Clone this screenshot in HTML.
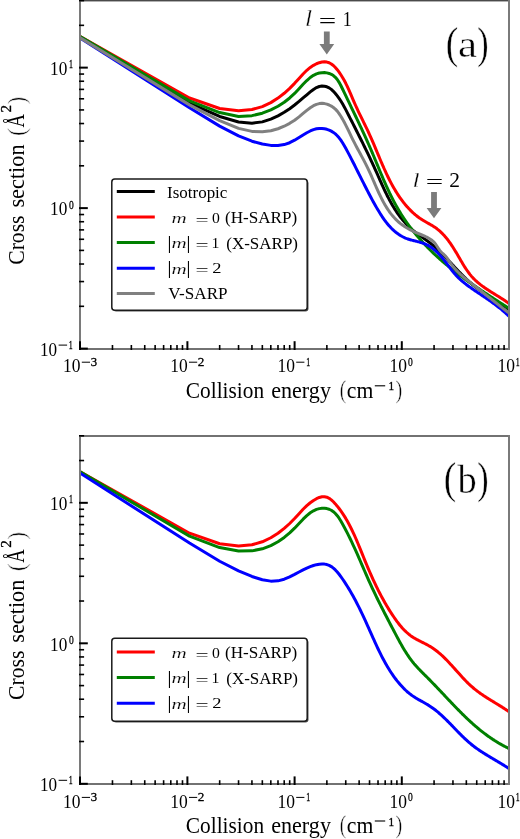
<!DOCTYPE html>
<html><head><meta charset="utf-8"><style>
html,body{margin:0;padding:0;background:#fff;width:520px;height:839px;overflow:hidden}
</style></head><body>
<svg width="520" height="839" viewBox="0 0 520 839" style="display:block;filter:blur(0.3px)">
<rect width="520" height="839" fill="#fff"/>
<clipPath id="ca"><rect x="80.2" y="0.6" width="428.8" height="348.0"/></clipPath>
<clipPath id="cb"><rect x="80.2" y="435.8" width="428.8" height="348.0"/></clipPath>
<g clip-path="url(#ca)" fill="none" stroke-width="3" stroke-linejoin="round" stroke-linecap="butt">
<path d="M80.20,37.20 L189.50,103.20 L219.67,116.47 L238.55,122.06 L251.94,123.21 L262.33,121.87 L270.82,119.17 L277.99,115.87 L284.21,112.32 L289.69,108.68 L294.60,105.03 L299.04,101.42 L303.09,97.97 L306.81,94.79 L310.26,91.91 L313.48,89.44 L316.48,87.59 L319.30,86.48 L321.97,86.06 L324.48,86.18 L326.87,86.78 L329.14,87.86 L331.31,89.39 L333.38,91.29 L335.36,93.46 L337.26,95.82 L339.09,98.34 L340.84,101.00 L342.54,103.80 L344.17,106.70 L345.75,109.66 L347.27,112.62 L348.75,115.51 L350.18,118.32 L351.57,121.04 L352.92,123.68 L354.24,126.26 L355.51,128.77 L356.75,131.22 L357.96,133.61 L359.14,135.95 L360.29,138.25 L361.41,140.50 L362.51,142.70 L363.58,144.87 L364.62,147.00 L365.65,149.09 L366.65,151.15 L367.63,153.18 L368.59,155.19 L369.53,157.16 L370.45,159.11 L371.36,161.04 L372.24,162.95 L373.11,164.83 L373.97,166.70 L374.81,168.55 L375.63,170.38 L376.44,172.19 L377.24,173.98 L378.02,175.74 L378.79,177.47 L379.54,179.18 L380.29,180.85 L381.02,182.48 L381.74,184.08 L382.46,185.64 L383.16,187.16 L383.84,188.64 L384.52,190.09 L385.19,191.49 L385.85,192.86 L386.51,194.18 L387.15,195.47 L387.78,196.72 L388.41,197.93 L389.02,199.11 L389.63,200.25 L390.23,201.35 L391.41,203.47 L392.56,205.45 L393.68,207.32 L394.78,209.08 L395.85,210.74 L396.89,212.31 L397.92,213.78 L398.92,215.18 L399.90,216.50 L400.86,217.75 L401.80,218.93 L402.72,220.05 L403.63,221.12 L404.51,222.13 L405.38,223.10 L406.24,224.01 L407.08,224.89 L407.90,225.73 L408.71,226.53 L409.51,227.29 L410.29,228.02 L411.06,228.72 L411.81,229.39 L412.56,230.03 L413.29,230.65 L414.01,231.24 L414.73,231.80 L415.43,232.35 L416.12,232.88 L416.80,233.39 L417.46,233.89 L418.13,234.38 L418.78,234.85 L419.42,235.31 L420.05,235.76 L420.68,236.21 L421.29,236.64 L421.90,237.07 L422.50,237.49 L423.39,238.12 L424.26,238.73 L425.11,239.33 L425.95,239.93 L426.78,240.53 L427.59,241.12 L428.38,241.71 L429.17,242.29 L429.93,242.88 L430.69,243.48 L431.44,244.07 L432.17,244.67 L432.89,245.27 L433.60,245.87 L434.30,246.47 L434.99,247.07 L435.67,247.68 L436.34,248.28 L437.00,248.88 L437.65,249.48 L438.30,250.09 L438.93,250.69 L439.55,251.29 L440.17,251.88 L440.78,252.48 L441.38,253.07 L442.17,253.86 L442.95,254.65 L443.71,255.43 L444.46,256.20 L445.20,256.97 L445.93,257.73 L446.64,258.49 L447.35,259.23 L448.04,259.97 L448.73,260.71 L449.40,261.43 L450.07,262.15 L450.72,262.85 L451.37,263.55 L452.01,264.24 L452.64,264.92 L453.26,265.59 L453.87,266.26 L454.47,266.91 L455.22,267.71 L455.95,268.50 L456.67,269.27 L457.38,270.03 L458.08,270.77 L458.77,271.49 L459.45,272.21 L460.12,272.90 L460.78,273.58 L461.44,274.25 L462.08,274.90 L462.71,275.54 L463.34,276.16 L463.95,276.77 L464.56,277.37 L465.16,277.95 L465.87,278.63 L466.57,279.29 L467.26,279.93 L467.94,280.56 L468.61,281.17 L469.27,281.76 L469.92,282.33 L470.57,282.89 L471.20,283.43 L471.82,283.96 L472.44,284.47 L473.05,284.97 L473.65,285.45 L474.34,286.00 L475.02,286.53 L475.69,287.05 L476.36,287.55 L477.01,288.04 L477.65,288.51 L478.29,288.98 L478.91,289.43 L479.53,289.87 L480.14,290.30 L480.74,290.73 L481.42,291.20 L482.09,291.66 L482.75,292.11 L483.40,292.56 L484.04,292.99 L484.67,293.42 L485.30,293.84 L485.91,294.25 L486.52,294.65 L487.19,295.10 L487.86,295.54 L488.51,295.97 L489.16,296.39 L489.80,296.81 L490.42,297.22 L491.04,297.63 L491.66,298.03 L492.26,298.43 L492.92,298.86 L493.58,299.29 L494.22,299.72 L494.86,300.14 L495.48,300.56 L496.10,300.97 L496.71,301.38 L497.31,301.78 L497.97,302.23 L498.61,302.67 L499.25,303.11 L499.87,303.54 L500.49,303.97 L501.10,304.40 L501.71,304.83 L502.36,305.29 L503.00,305.76 L503.63,306.22 L504.25,306.68 L504.86,307.14 L505.47,307.60 L506.12,308.10 L506.76,308.60 L507.39,309.10 L508.01,309.60 L508.63,310.10 L509.00,310.41" stroke="#000"/>
<path d="M80.20,36.50 L189.50,98.00 L219.67,108.53 L238.55,110.70 L251.94,109.54 L262.33,106.61 L270.82,102.62 L277.99,98.09 L284.21,93.29 L289.69,88.35 L294.60,83.35 L299.04,78.41 L303.09,73.96 L306.81,70.29 L310.26,67.44 L313.48,65.30 L316.48,63.75 L319.30,62.68 L321.97,62.05 L324.48,61.84 L326.87,62.07 L329.14,62.79 L331.31,63.97 L333.38,65.55 L335.36,67.48 L337.26,69.69 L339.09,72.13 L340.84,74.73 L342.54,77.46 L344.17,80.32 L345.75,83.32 L347.27,86.43 L348.75,89.64 L350.18,92.89 L351.57,96.13 L352.92,99.31 L354.24,102.37 L355.51,105.26 L356.75,107.99 L357.96,110.57 L359.14,113.03 L360.29,115.40 L361.41,117.70 L362.51,119.92 L363.58,122.09 L364.62,124.22 L365.65,126.32 L366.65,128.39 L367.63,130.45 L368.59,132.49 L369.53,134.53 L370.45,136.58 L371.36,138.61 L372.24,140.64 L373.11,142.66 L373.97,144.67 L374.81,146.65 L375.63,148.61 L376.44,150.55 L377.24,152.46 L378.02,154.33 L378.79,156.18 L379.54,157.98 L380.29,159.75 L381.02,161.48 L381.74,163.17 L382.46,164.82 L383.16,166.42 L383.84,167.98 L384.52,169.51 L385.19,170.99 L385.85,172.42 L386.51,173.82 L387.15,175.18 L387.78,176.50 L388.41,177.77 L389.02,179.02 L389.63,180.22 L390.23,181.39 L391.41,183.63 L392.56,185.74 L393.68,187.72 L394.78,189.60 L395.85,191.37 L396.89,193.04 L397.92,194.63 L398.92,196.13 L399.90,197.55 L400.86,198.90 L401.80,200.18 L402.72,201.40 L403.63,202.56 L404.51,203.67 L405.38,204.73 L406.24,205.73 L407.08,206.69 L407.90,207.61 L408.71,208.48 L409.51,209.32 L410.29,210.12 L411.06,210.89 L411.81,211.62 L412.56,212.32 L413.29,212.99 L414.01,213.64 L414.73,214.25 L415.43,214.85 L416.12,215.41 L416.80,215.96 L417.46,216.48 L418.13,216.99 L418.78,217.47 L419.42,217.93 L420.05,218.38 L420.68,218.81 L421.29,219.22 L421.90,219.62 L422.50,220.00 L423.39,220.55 L424.26,221.07 L425.11,221.56 L425.95,222.04 L426.78,222.51 L427.59,222.96 L428.38,223.40 L429.17,223.84 L429.93,224.28 L430.69,224.71 L431.44,225.14 L432.17,225.57 L432.89,226.01 L433.60,226.46 L434.30,226.91 L434.99,227.37 L435.67,227.84 L436.34,228.33 L437.00,228.82 L437.65,229.33 L438.30,229.85 L438.93,230.38 L439.55,230.92 L440.17,231.47 L440.78,232.04 L441.38,232.61 L442.17,233.39 L442.95,234.18 L443.71,235.00 L444.46,235.82 L445.20,236.67 L445.93,237.53 L446.64,238.40 L447.35,239.29 L448.04,240.19 L448.73,241.11 L449.40,242.03 L450.07,242.97 L450.72,243.91 L451.37,244.86 L452.01,245.82 L452.64,246.78 L453.26,247.75 L453.87,248.72 L454.47,249.70 L455.22,250.92 L455.95,252.14 L456.67,253.35 L457.38,254.56 L458.08,255.76 L458.77,256.95 L459.45,258.12 L460.12,259.28 L460.78,260.41 L461.44,261.52 L462.08,262.61 L462.71,263.67 L463.34,264.71 L463.95,265.71 L464.56,266.68 L465.16,267.63 L465.87,268.72 L466.57,269.76 L467.26,270.76 L467.94,271.72 L468.61,272.64 L469.27,273.51 L469.92,274.35 L470.57,275.14 L471.20,275.91 L471.82,276.63 L472.44,277.32 L473.05,277.98 L473.65,278.61 L474.34,279.31 L475.02,279.98 L475.69,280.61 L476.36,281.22 L477.01,281.80 L477.65,282.36 L478.29,282.90 L478.91,283.41 L479.53,283.91 L480.14,284.40 L480.74,284.86 L481.42,285.38 L482.09,285.88 L482.75,286.36 L483.40,286.83 L484.04,287.28 L484.67,287.72 L485.30,288.15 L485.91,288.57 L486.52,288.98 L487.19,289.43 L487.86,289.86 L488.51,290.29 L489.16,290.71 L489.80,291.11 L490.42,291.51 L491.04,291.90 L491.66,292.29 L492.26,292.67 L492.92,293.08 L493.58,293.48 L494.22,293.88 L494.86,294.27 L495.48,294.66 L496.10,295.04 L496.71,295.41 L497.31,295.79 L497.97,296.19 L498.61,296.59 L499.25,296.99 L499.87,297.38 L500.49,297.77 L501.10,298.15 L501.71,298.54 L502.36,298.95 L503.00,299.37 L503.63,299.78 L504.25,300.19 L504.86,300.60 L505.47,301.01 L506.12,301.45 L506.76,301.89 L507.39,302.34 L508.01,302.78 L508.63,303.23 L509.00,303.50" stroke="#ff0000"/>
<path d="M80.20,36.60 L189.50,100.90 L219.67,112.57 L238.55,116.45 L251.94,115.66 L262.33,113.20 L270.82,109.95 L277.99,106.24 L284.21,102.23 L289.69,97.95 L294.60,93.41 L299.04,88.72 L303.09,84.32 L306.81,80.55 L310.26,77.50 L313.48,75.28 L316.48,73.87 L319.30,73.05 L321.97,72.66 L324.48,72.61 L326.87,72.87 L329.14,73.43 L331.31,74.30 L333.38,75.56 L335.36,77.29 L337.26,79.53 L339.09,82.30 L340.84,85.53 L342.54,89.00 L344.17,92.41 L345.75,95.70 L347.27,98.87 L348.75,101.94 L350.18,104.91 L351.57,107.79 L352.92,110.59 L354.24,113.32 L355.51,115.99 L356.75,118.58 L357.96,121.13 L359.14,123.62 L360.29,126.06 L361.41,128.46 L362.51,130.81 L363.58,133.13 L364.62,135.41 L365.65,137.66 L366.65,139.88 L367.63,142.07 L368.59,144.24 L369.53,146.38 L370.45,148.51 L371.36,150.61 L372.24,152.69 L373.11,154.75 L373.97,156.79 L374.81,158.80 L375.63,160.78 L376.44,162.73 L377.24,164.65 L378.02,166.53 L378.79,168.38 L379.54,170.20 L380.29,171.98 L381.02,173.72 L381.74,175.42 L382.46,177.09 L383.16,178.72 L383.84,180.31 L384.52,181.87 L385.19,183.39 L385.85,184.87 L386.51,186.31 L387.15,187.72 L387.78,189.10 L388.41,190.44 L389.02,191.75 L389.63,193.03 L390.23,194.27 L391.41,196.67 L392.56,198.95 L393.68,201.12 L394.78,203.18 L395.85,205.15 L396.89,207.02 L397.92,208.80 L398.92,210.51 L399.90,212.13 L400.86,213.69 L401.80,215.18 L402.72,216.61 L403.63,217.99 L404.51,219.31 L405.38,220.59 L406.24,221.81 L407.08,223.00 L407.90,224.15 L408.71,225.26 L409.51,226.34 L410.29,227.38 L411.06,228.39 L411.81,229.37 L412.56,230.32 L413.29,231.25 L414.01,232.15 L414.73,233.03 L415.43,233.88 L416.12,234.72 L416.80,235.53 L417.46,236.32 L418.13,237.09 L418.78,237.85 L419.42,238.58 L420.05,239.30 L420.68,240.01 L421.29,240.70 L421.90,241.37 L422.50,242.03 L423.39,242.99 L424.26,243.93 L425.11,244.83 L425.95,245.71 L426.78,246.57 L427.59,247.40 L428.38,248.21 L429.17,249.00 L429.93,249.76 L430.69,250.51 L431.44,251.24 L432.17,251.95 L432.89,252.64 L433.60,253.32 L434.30,253.98 L434.99,254.63 L435.67,255.26 L436.34,255.88 L437.00,256.48 L437.65,257.08 L438.30,257.66 L438.93,258.23 L439.55,258.78 L440.17,259.33 L440.78,259.87 L441.38,260.39 L442.17,261.08 L442.95,261.75 L443.71,262.40 L444.46,263.04 L445.20,263.66 L445.93,264.27 L446.64,264.87 L447.35,265.46 L448.04,266.03 L448.73,266.59 L449.40,267.14 L450.07,267.67 L450.72,268.20 L451.37,268.72 L452.01,269.23 L452.64,269.72 L453.26,270.21 L453.87,270.69 L454.47,271.17 L455.22,271.74 L455.95,272.31 L456.67,272.87 L457.38,273.41 L458.08,273.94 L458.77,274.46 L459.45,274.97 L460.12,275.48 L460.78,275.97 L461.44,276.45 L462.08,276.93 L462.71,277.40 L463.34,277.85 L463.95,278.31 L464.56,278.75 L465.16,279.18 L465.87,279.70 L466.57,280.20 L467.26,280.70 L467.94,281.18 L468.61,281.66 L469.27,282.13 L469.92,282.59 L470.57,283.04 L471.20,283.49 L471.82,283.92 L472.44,284.35 L473.05,284.78 L473.65,285.19 L474.34,285.67 L475.02,286.14 L475.69,286.60 L476.36,287.05 L477.01,287.50 L477.65,287.94 L478.29,288.37 L478.91,288.79 L479.53,289.21 L480.14,289.62 L480.74,290.03 L481.42,290.48 L482.09,290.93 L482.75,291.37 L483.40,291.80 L484.04,292.23 L484.67,292.65 L485.30,293.06 L485.91,293.47 L486.52,293.87 L487.19,294.32 L487.86,294.75 L488.51,295.18 L489.16,295.61 L489.80,296.02 L490.42,296.43 L491.04,296.84 L491.66,297.24 L492.26,297.63 L492.92,298.06 L493.58,298.48 L494.22,298.90 L494.86,299.31 L495.48,299.71 L496.10,300.11 L496.71,300.51 L497.31,300.89 L497.97,301.31 L498.61,301.73 L499.25,302.14 L499.87,302.54 L500.49,302.94 L501.10,303.33 L501.71,303.71 L502.36,304.13 L503.00,304.54 L503.63,304.94 L504.25,305.34 L504.86,305.73 L505.47,306.12 L506.12,306.53 L506.76,306.94 L507.39,307.34 L508.01,307.74 L508.63,308.13 L509.00,308.37" stroke="#008000"/>
<path d="M80.20,38.00 L189.50,107.80 L219.67,126.11 L238.55,135.93 L251.94,141.19 L262.33,144.05 L270.82,145.39 L277.99,145.49 L284.21,144.55 L289.69,142.71 L294.60,140.21 L299.04,137.52 L303.09,134.96 L306.81,132.74 L310.26,130.96 L313.48,129.65 L316.48,128.82 L319.30,128.44 L321.97,128.44 L324.48,128.74 L326.87,129.30 L329.14,130.11 L331.31,131.14 L333.38,132.41 L335.36,133.93 L337.26,135.74 L339.09,137.83 L340.84,140.17 L342.54,142.74 L344.17,145.48 L345.75,148.30 L347.27,151.13 L348.75,153.91 L350.18,156.65 L351.57,159.33 L352.92,161.96 L354.24,164.55 L355.51,167.07 L356.75,169.55 L357.96,171.97 L359.14,174.33 L360.29,176.63 L361.41,178.88 L362.51,181.06 L363.58,183.19 L364.62,185.26 L365.65,187.27 L366.65,189.23 L367.63,191.13 L368.59,192.98 L369.53,194.77 L370.45,196.51 L371.36,198.20 L372.24,199.84 L373.11,201.44 L373.97,202.98 L374.81,204.49 L375.63,205.95 L376.44,207.37 L377.24,208.74 L378.02,210.07 L378.79,211.35 L379.54,212.58 L380.29,213.77 L381.02,214.92 L381.74,216.02 L382.46,217.09 L383.16,218.11 L383.84,219.09 L384.52,220.03 L385.19,220.93 L385.85,221.80 L386.51,222.64 L387.15,223.44 L387.78,224.21 L388.41,224.95 L389.02,225.66 L389.63,226.34 L390.23,226.99 L391.41,228.22 L392.56,229.35 L393.68,230.40 L394.78,231.36 L395.85,232.25 L396.89,233.06 L397.92,233.82 L398.92,234.51 L399.90,235.15 L400.86,235.74 L401.80,236.28 L402.72,236.78 L403.63,237.23 L404.51,237.65 L405.38,238.04 L406.24,238.39 L407.08,238.71 L407.90,239.00 L408.71,239.27 L409.51,239.52 L410.29,239.75 L411.06,239.97 L411.81,240.17 L412.56,240.37 L413.29,240.55 L414.01,240.73 L414.73,240.91 L415.43,241.08 L416.12,241.25 L416.80,241.41 L417.46,241.58 L418.13,241.75 L418.78,241.92 L419.42,242.09 L420.05,242.27 L420.68,242.45 L421.29,242.63 L421.90,242.82 L422.50,243.02 L423.39,243.33 L424.26,243.66 L425.11,244.01 L425.95,244.38 L426.78,244.78 L427.59,245.19 L428.38,245.62 L429.17,246.08 L429.93,246.55 L430.69,247.04 L431.44,247.55 L432.17,248.07 L432.89,248.61 L433.60,249.17 L434.30,249.74 L434.99,250.33 L435.67,250.93 L436.34,251.54 L437.00,252.16 L437.65,252.80 L438.30,253.45 L438.93,254.11 L439.55,254.77 L440.17,255.45 L440.78,256.14 L441.38,256.83 L442.17,257.76 L442.95,258.70 L443.71,259.65 L444.46,260.60 L445.20,261.55 L445.93,262.49 L446.64,263.43 L447.35,264.37 L448.04,265.28 L448.73,266.19 L449.40,267.08 L450.07,267.95 L450.72,268.80 L451.37,269.64 L452.01,270.45 L452.64,271.23 L453.26,272.00 L453.87,272.74 L454.47,273.45 L455.22,274.31 L455.95,275.14 L456.67,275.92 L457.38,276.67 L458.08,277.38 L458.77,278.06 L459.45,278.71 L460.12,279.34 L460.78,279.94 L461.44,280.51 L462.08,281.07 L462.71,281.61 L463.34,282.13 L463.95,282.63 L464.56,283.12 L465.16,283.59 L465.87,284.15 L466.57,284.68 L467.26,285.20 L467.94,285.70 L468.61,286.19 L469.27,286.67 L469.92,287.14 L470.57,287.59 L471.20,288.04 L471.82,288.48 L472.44,288.91 L473.05,289.33 L473.65,289.74 L474.34,290.21 L475.02,290.68 L475.69,291.13 L476.36,291.58 L477.01,292.02 L477.65,292.46 L478.29,292.89 L478.91,293.31 L479.53,293.72 L480.14,294.13 L480.74,294.54 L481.42,294.99 L482.09,295.44 L482.75,295.89 L483.40,296.33 L484.04,296.76 L484.67,297.19 L485.30,297.61 L485.91,298.03 L486.52,298.45 L487.19,298.91 L487.86,299.37 L488.51,299.82 L489.16,300.27 L489.80,300.71 L490.42,301.15 L491.04,301.59 L491.66,302.03 L492.26,302.46 L492.92,302.94 L493.58,303.41 L494.22,303.88 L494.86,304.35 L495.48,304.81 L496.10,305.28 L496.71,305.74 L497.31,306.20 L497.97,306.70 L498.61,307.20 L499.25,307.70 L499.87,308.20 L500.49,308.70 L501.10,309.20 L501.71,309.70 L502.36,310.24 L503.00,310.78 L503.63,311.32 L504.25,311.86 L504.86,312.41 L505.47,312.95 L506.12,313.54 L506.76,314.13 L507.39,314.73 L508.01,315.32 L508.63,315.92 L509.00,316.28" stroke="#0000ff"/>
<path d="M80.20,37.80 L189.50,104.90 L219.67,120.68 L238.55,128.39 L251.94,131.40 L262.33,131.85 L270.82,130.75 L277.99,128.76 L284.21,126.23 L289.69,123.33 L294.60,120.18 L299.04,116.84 L303.09,113.45 L306.81,110.34 L310.26,107.73 L313.48,105.73 L316.48,104.37 L319.30,103.60 L321.97,103.36 L324.48,103.59 L326.87,104.16 L329.14,105.02 L331.31,106.12 L333.38,107.48 L335.36,109.12 L337.26,111.14 L339.09,113.59 L340.84,116.29 L342.54,119.12 L344.17,122.07 L345.75,125.08 L347.27,128.14 L348.75,131.18 L350.18,134.17 L351.57,137.06 L352.92,139.81 L354.24,142.41 L355.51,144.87 L356.75,147.22 L357.96,149.48 L359.14,151.66 L360.29,153.79 L361.41,155.86 L362.51,157.91 L363.58,159.92 L364.62,161.92 L365.65,163.90 L366.65,165.89 L367.63,167.89 L368.59,169.90 L369.53,171.92 L370.45,173.95 L371.36,175.98 L372.24,178.00 L373.11,179.99 L373.97,181.96 L374.81,183.89 L375.63,185.77 L376.44,187.61 L377.24,189.40 L378.02,191.13 L378.79,192.80 L379.54,194.41 L380.29,195.96 L381.02,197.46 L381.74,198.89 L382.46,200.26 L383.16,201.58 L383.84,202.84 L384.52,204.05 L385.19,205.20 L385.85,206.31 L386.51,207.37 L387.15,208.38 L387.78,209.35 L388.41,210.28 L389.02,211.17 L389.63,212.02 L390.23,212.84 L391.41,214.37 L392.56,215.78 L393.68,217.08 L394.78,218.29 L395.85,219.40 L396.89,220.43 L397.92,221.38 L398.92,222.27 L399.90,223.09 L400.86,223.86 L401.80,224.58 L402.72,225.24 L403.63,225.87 L404.51,226.46 L405.38,227.02 L406.24,227.54 L407.08,228.04 L407.90,228.52 L408.71,228.97 L409.51,229.40 L410.29,229.82 L411.06,230.21 L411.81,230.59 L412.56,230.96 L413.29,231.31 L414.01,231.65 L414.73,231.97 L415.43,232.29 L416.12,232.60 L416.80,232.89 L417.46,233.18 L418.13,233.46 L418.78,233.73 L419.42,234.00 L420.05,234.25 L420.68,234.51 L421.29,234.76 L421.90,235.00 L422.50,235.25 L423.39,235.62 L424.26,235.99 L425.11,236.37 L425.95,236.75 L426.78,237.15 L427.59,237.56 L428.38,237.99 L429.17,238.44 L429.93,238.91 L430.69,239.42 L431.44,239.96 L432.17,240.53 L432.89,241.15 L433.60,241.83 L434.30,242.56 L434.99,243.38 L435.67,244.27 L436.34,245.24 L437.00,246.25 L437.65,247.27 L438.30,248.27 L438.93,249.22 L439.55,250.09 L440.17,250.88 L440.78,251.59 L441.38,252.22 L442.17,253.00 L442.95,253.72 L443.71,254.43 L444.46,255.12 L445.20,255.85 L445.93,256.62 L446.64,257.46 L447.35,258.39 L448.04,259.39 L448.73,260.43 L449.40,261.47 L450.07,262.49 L450.72,263.46 L451.37,264.36 L452.01,265.22 L452.64,266.03 L453.26,266.80 L453.87,267.53 L454.47,268.23 L455.22,269.07 L455.95,269.86 L456.67,270.62 L457.38,271.35 L458.08,272.04 L458.77,272.71 L459.45,273.36 L460.12,273.98 L460.78,274.59 L461.44,275.17 L462.08,275.74 L462.71,276.29 L463.34,276.82 L463.95,277.35 L464.56,277.86 L465.16,278.35 L465.87,278.94 L466.57,279.51 L467.26,280.06 L467.94,280.61 L468.61,281.14 L469.27,281.66 L469.92,282.18 L470.57,282.68 L471.20,283.18 L471.82,283.67 L472.44,284.15 L473.05,284.63 L473.65,285.10 L474.34,285.64 L475.02,286.18 L475.69,286.71 L476.36,287.23 L477.01,287.75 L477.65,288.26 L478.29,288.76 L478.91,289.26 L479.53,289.75 L480.14,290.23 L480.74,290.71 L481.42,291.25 L482.09,291.78 L482.75,292.31 L483.40,292.82 L484.04,293.34 L484.67,293.84 L485.30,294.34 L485.91,294.83 L486.52,295.31 L487.19,295.85 L487.86,296.38 L488.51,296.90 L489.16,297.42 L489.80,297.93 L490.42,298.43 L491.04,298.92 L491.66,299.41 L492.26,299.89 L492.92,300.42 L493.58,300.94 L494.22,301.45 L494.86,301.95 L495.48,302.45 L496.10,302.93 L496.71,303.42 L497.31,303.89 L497.97,304.41 L498.61,304.91 L499.25,305.41 L499.87,305.90 L500.49,306.39 L501.10,306.86 L501.71,307.33 L502.36,307.84 L503.00,308.34 L503.63,308.83 L504.25,309.31 L504.86,309.78 L505.47,310.25 L506.12,310.75 L506.76,311.24 L507.39,311.72 L508.01,312.19 L508.63,312.66 L509.00,312.94" stroke="#808080"/>
</g>
<rect x="79" y="0" width="431" height="1" fill="#4a4a4a"/>
<rect x="79" y="1" width="431" height="1" fill="#b0b0b0"/>
<rect x="79" y="348" width="431" height="2" fill="#727272"/>
<rect x="79" y="0" width="2" height="350" fill="#7a7a7a"/>
<rect x="508" y="0" width="2" height="350" fill="#7a7a7a"/>
<line x1="112.47" y1="350.00" x2="112.47" y2="345.00" stroke="#000" stroke-width="1.6"/>
<line x1="131.35" y1="350.00" x2="131.35" y2="345.00" stroke="#000" stroke-width="1.6"/>
<line x1="144.74" y1="350.00" x2="144.74" y2="345.00" stroke="#000" stroke-width="1.6"/>
<line x1="155.13" y1="350.00" x2="155.13" y2="345.00" stroke="#000" stroke-width="1.6"/>
<line x1="163.62" y1="350.00" x2="163.62" y2="345.00" stroke="#000" stroke-width="1.6"/>
<line x1="170.79" y1="350.00" x2="170.79" y2="345.00" stroke="#000" stroke-width="1.6"/>
<line x1="177.01" y1="350.00" x2="177.01" y2="345.00" stroke="#000" stroke-width="1.6"/>
<line x1="182.49" y1="350.00" x2="182.49" y2="345.00" stroke="#000" stroke-width="1.6"/>
<line x1="187.40" y1="350.00" x2="187.40" y2="341.20" stroke="#000" stroke-width="2.0"/>
<line x1="219.67" y1="350.00" x2="219.67" y2="345.00" stroke="#000" stroke-width="1.6"/>
<line x1="238.55" y1="350.00" x2="238.55" y2="345.00" stroke="#000" stroke-width="1.6"/>
<line x1="251.94" y1="350.00" x2="251.94" y2="345.00" stroke="#000" stroke-width="1.6"/>
<line x1="262.33" y1="350.00" x2="262.33" y2="345.00" stroke="#000" stroke-width="1.6"/>
<line x1="270.82" y1="350.00" x2="270.82" y2="345.00" stroke="#000" stroke-width="1.6"/>
<line x1="277.99" y1="350.00" x2="277.99" y2="345.00" stroke="#000" stroke-width="1.6"/>
<line x1="284.21" y1="350.00" x2="284.21" y2="345.00" stroke="#000" stroke-width="1.6"/>
<line x1="289.69" y1="350.00" x2="289.69" y2="345.00" stroke="#000" stroke-width="1.6"/>
<line x1="294.60" y1="350.00" x2="294.60" y2="341.20" stroke="#000" stroke-width="2.0"/>
<line x1="326.87" y1="350.00" x2="326.87" y2="345.00" stroke="#000" stroke-width="1.6"/>
<line x1="345.75" y1="350.00" x2="345.75" y2="345.00" stroke="#000" stroke-width="1.6"/>
<line x1="359.14" y1="350.00" x2="359.14" y2="345.00" stroke="#000" stroke-width="1.6"/>
<line x1="369.53" y1="350.00" x2="369.53" y2="345.00" stroke="#000" stroke-width="1.6"/>
<line x1="378.02" y1="350.00" x2="378.02" y2="345.00" stroke="#000" stroke-width="1.6"/>
<line x1="385.19" y1="350.00" x2="385.19" y2="345.00" stroke="#000" stroke-width="1.6"/>
<line x1="391.41" y1="350.00" x2="391.41" y2="345.00" stroke="#000" stroke-width="1.6"/>
<line x1="396.89" y1="350.00" x2="396.89" y2="345.00" stroke="#000" stroke-width="1.6"/>
<line x1="401.80" y1="350.00" x2="401.80" y2="341.20" stroke="#000" stroke-width="2.0"/>
<line x1="434.07" y1="350.00" x2="434.07" y2="345.00" stroke="#000" stroke-width="1.6"/>
<line x1="452.95" y1="350.00" x2="452.95" y2="345.00" stroke="#000" stroke-width="1.6"/>
<line x1="466.34" y1="350.00" x2="466.34" y2="345.00" stroke="#000" stroke-width="1.6"/>
<line x1="476.73" y1="350.00" x2="476.73" y2="345.00" stroke="#000" stroke-width="1.6"/>
<line x1="485.22" y1="350.00" x2="485.22" y2="345.00" stroke="#000" stroke-width="1.6"/>
<line x1="492.39" y1="350.00" x2="492.39" y2="345.00" stroke="#000" stroke-width="1.6"/>
<line x1="498.61" y1="350.00" x2="498.61" y2="345.00" stroke="#000" stroke-width="1.6"/>
<line x1="504.09" y1="350.00" x2="504.09" y2="345.00" stroke="#000" stroke-width="1.6"/>
<line x1="79" y1="348.60" x2="87.80" y2="348.60" stroke="#000" stroke-width="2.0"/>
<line x1="79" y1="306.31" x2="84.10" y2="306.31" stroke="#000" stroke-width="1.6"/>
<line x1="79" y1="281.57" x2="84.10" y2="281.57" stroke="#000" stroke-width="1.6"/>
<line x1="79" y1="264.02" x2="84.10" y2="264.02" stroke="#000" stroke-width="1.6"/>
<line x1="79" y1="250.40" x2="84.10" y2="250.40" stroke="#000" stroke-width="1.6"/>
<line x1="79" y1="239.28" x2="84.10" y2="239.28" stroke="#000" stroke-width="1.6"/>
<line x1="79" y1="229.88" x2="84.10" y2="229.88" stroke="#000" stroke-width="1.6"/>
<line x1="79" y1="221.73" x2="84.10" y2="221.73" stroke="#000" stroke-width="1.6"/>
<line x1="79" y1="214.54" x2="84.10" y2="214.54" stroke="#000" stroke-width="1.6"/>
<line x1="79" y1="208.11" x2="87.80" y2="208.11" stroke="#000" stroke-width="2.0"/>
<line x1="79" y1="165.82" x2="84.10" y2="165.82" stroke="#000" stroke-width="1.6"/>
<line x1="79" y1="141.09" x2="84.10" y2="141.09" stroke="#000" stroke-width="1.6"/>
<line x1="79" y1="123.53" x2="84.10" y2="123.53" stroke="#000" stroke-width="1.6"/>
<line x1="79" y1="109.92" x2="84.10" y2="109.92" stroke="#000" stroke-width="1.6"/>
<line x1="79" y1="98.80" x2="84.10" y2="98.80" stroke="#000" stroke-width="1.6"/>
<line x1="79" y1="89.39" x2="84.10" y2="89.39" stroke="#000" stroke-width="1.6"/>
<line x1="79" y1="81.24" x2="84.10" y2="81.24" stroke="#000" stroke-width="1.6"/>
<line x1="79" y1="74.06" x2="84.10" y2="74.06" stroke="#000" stroke-width="1.6"/>
<line x1="79" y1="67.63" x2="87.80" y2="67.63" stroke="#000" stroke-width="2.0"/>
<line x1="79" y1="25.34" x2="84.10" y2="25.34" stroke="#000" stroke-width="1.6"/>
<line x1="79" y1="0.60" x2="84.10" y2="0.60" stroke="#000" stroke-width="1.6"/>
<line x1="80" y1="350.00" x2="80" y2="341.20" stroke="#000" stroke-width="2"/>
<text transform="translate(50.03,74.85) scale(0.9627,1)" style="font-family:'Liberation Serif',serif;font-size:17.926px" fill="#000">10</text>
<text transform="translate(69.03,67.83) scale(0.6761,1)" style="font-family:'Liberation Serif',serif;font-size:11.667px" fill="#000" stroke="#000" stroke-width="0.3">1</text>
<text transform="translate(50.03,215.34) scale(0.9627,1)" style="font-family:'Liberation Serif',serif;font-size:17.926px" fill="#000">10</text>
<text transform="translate(68.92,208.50) scale(0.8036,1)" style="font-family:'Liberation Serif',serif;font-size:11.852px" fill="#000" stroke="#000" stroke-width="0.3">0</text>
<text transform="translate(39.94,355.82) scale(0.9563,1)" style="font-family:'Liberation Serif',serif;font-size:17.926px" fill="#000">10</text>
<rect x="58.60" y="344.60" width="8.50" height="1.00" fill="#000"/>
<text transform="translate(68.63,348.80) scale(0.6761,1)" style="font-family:'Liberation Serif',serif;font-size:11.667px" fill="#000" stroke="#000" stroke-width="0.3">1</text>
<text transform="translate(63.01,372.32) scale(0.9754,1)" style="font-family:'Liberation Serif',serif;font-size:17.926px" fill="#000">10</text>
<rect x="81.80" y="361.70" width="8.20" height="1.00" fill="#000"/>
<text transform="translate(90.63,365.98) scale(1.0435,1)" style="font-family:'Liberation Serif',serif;font-size:12.239px" fill="#000" stroke="#000" stroke-width="0.3">3</text>
<text transform="translate(170.21,372.32) scale(0.9754,1)" style="font-family:'Liberation Serif',serif;font-size:17.926px" fill="#000">10</text>
<rect x="189.00" y="361.70" width="8.20" height="1.00" fill="#000"/>
<text transform="translate(197.80,366.10) scale(1.0665,1)" style="font-family:'Liberation Serif',serif;font-size:12.424px" fill="#000" stroke="#000" stroke-width="0.3">2</text>
<text transform="translate(277.41,372.32) scale(0.9754,1)" style="font-family:'Liberation Serif',serif;font-size:17.926px" fill="#000">10</text>
<rect x="296.20" y="361.70" width="8.20" height="1.00" fill="#000"/>
<text transform="translate(306.23,366.10) scale(0.6348,1)" style="font-family:'Liberation Serif',serif;font-size:12.424px" fill="#000" stroke="#000" stroke-width="0.3">1</text>
<text transform="translate(389.61,372.32) scale(0.9754,1)" style="font-family:'Liberation Serif',serif;font-size:17.926px" fill="#000">10</text>
<text transform="translate(408.12,366.18) scale(0.7653,1)" style="font-family:'Liberation Serif',serif;font-size:12.444px" fill="#000" stroke="#000" stroke-width="0.3">0</text>
<text transform="translate(497.41,372.32) scale(0.9754,1)" style="font-family:'Liberation Serif',serif;font-size:17.926px" fill="#000">10</text>
<text transform="translate(515.63,366.10) scale(0.6348,1)" style="font-family:'Liberation Serif',serif;font-size:12.424px" fill="#000" stroke="#000" stroke-width="0.3">1</text>
<text transform="translate(185.85,397.60) scale(0.9565,1)" style="font-family:'Liberation Serif',serif;font-size:22.300px" fill="#000">Collision</text>
<text transform="translate(271.22,397.60) scale(0.9913,1)" style="font-family:'Liberation Serif',serif;font-size:22.300px" fill="#000">energy</text>
<text transform="translate(339.64,397.88) scale(0.7347,1)" style="font-family:'Liberation Serif',serif;font-size:26.154px" fill="#000" stroke="#fff" stroke-width="0.5">(</text>
<text transform="translate(346.83,397.60) scale(0.9735,1)" style="font-family:'Liberation Serif',serif;font-size:22.300px" fill="#000">cm</text>
<rect x="374.80" y="385.25" width="10.40" height="1.10" fill="#000"/>
<text transform="translate(388.54,390.30) scale(0.9296,1)" style="font-family:'Liberation Serif',serif;font-size:12.121px" fill="#000" stroke="#000" stroke-width="0.35">1</text>
<text transform="translate(395.59,397.88) scale(0.7794,1)" style="font-family:'Liberation Serif',serif;font-size:26.154px" fill="#000" stroke="#fff" stroke-width="0.5">)</text>
<text transform="translate(24.07,264.77) rotate(-90) scale(0.9232,1)" style="font-family:'Liberation Serif',serif;font-size:23.433px">Cross</text>
<text transform="translate(24.07,207.59) rotate(-90) scale(0.9535,1)" style="font-family:'Liberation Serif',serif;font-size:23.433px">section</text>
<text transform="translate(25.40,136.09) rotate(-90) scale(0.9336,1)" style="font-family:'Liberation Serif',serif;font-size:26.044px" stroke="#fff" stroke-width="0.6">(</text>
<text transform="translate(24.30,127.49) rotate(-90) scale(0.7526,1)" style="font-family:'Liberation Serif',serif;font-size:24.878px">Å</text>
<text transform="translate(10.60,112.58) rotate(-90) scale(0.9612,1)" style="font-family:'Liberation Serif',serif;font-size:15.606px" stroke="#000" stroke-width="0.35">2</text>
<text transform="translate(25.40,104.52) rotate(-90) scale(0.9156,1)" style="font-family:'Liberation Serif',serif;font-size:26.044px" stroke="#fff" stroke-width="0.6">)</text>
<rect x="113.10" y="180.30" width="195.40" height="131.30" rx="3" fill="#555"/>
<rect x="111.80" y="179.00" width="195.40" height="131.30" rx="3" fill="#fff" stroke="#1a1a1a" stroke-width="1.5"/>
<line x1="116.8" y1="191.60" x2="154.8" y2="191.60" stroke="#000" stroke-width="3"/>
<text transform="translate(167.11,197.70) scale(1.0736,1)" style="font-family:'Liberation Serif',serif;font-size:15.800px" fill="#000">Isotropic</text>
<line x1="116.8" y1="216.90" x2="154.8" y2="216.90" stroke="#ff0000" stroke-width="3"/>
<text transform="translate(171.56,222.90) scale(1.5246,1)" style="font-family:'Liberation Serif',serif;font-size:13.830px;font-style:italic" fill="#000" stroke="#fff" stroke-width="0.15">m</text>
<text transform="translate(195.54,224.65) scale(1.6129,1)" style="font-family:'Liberation Serif',serif;font-size:14.400px" fill="#000">=</text>
<text transform="translate(211.97,222.84) scale(1.0102,1)" style="font-family:'Liberation Serif',serif;font-size:15.556px" fill="#000">0</text>
<text transform="translate(225.03,223.00) scale(1.0821,1)" style="font-family:'Liberation Serif',serif;font-size:15.800px" fill="#000">(H-SARP)</text>
<line x1="116.8" y1="242.50" x2="154.8" y2="242.50" stroke="#008000" stroke-width="3"/>
<text transform="translate(167.15,248.67) scale(1.2358,1)" style="font-family:'Liberation Serif',serif;font-size:17.802px" fill="#000">|</text>
<text transform="translate(186.15,248.67) scale(1.2358,1)" style="font-family:'Liberation Serif',serif;font-size:17.802px" fill="#000">|</text>
<text transform="translate(171.56,248.40) scale(1.5246,1)" style="font-family:'Liberation Serif',serif;font-size:13.830px;font-style:italic" fill="#000" stroke="#fff" stroke-width="0.15">m</text>
<text transform="translate(195.54,250.15) scale(1.6129,1)" style="font-family:'Liberation Serif',serif;font-size:14.400px" fill="#000">=</text>
<text transform="translate(211.56,248.20) scale(1.0207,1)" style="font-family:'Liberation Serif',serif;font-size:15.455px" fill="#000">1</text>
<text transform="translate(226.23,248.50) scale(1.0760,1)" style="font-family:'Liberation Serif',serif;font-size:15.800px" fill="#000">(X-SARP)</text>
<line x1="116.8" y1="268.20" x2="154.8" y2="268.20" stroke="#0000ff" stroke-width="3"/>
<text transform="translate(167.15,273.87) scale(1.2358,1)" style="font-family:'Liberation Serif',serif;font-size:17.802px" fill="#000">|</text>
<text transform="translate(186.15,273.87) scale(1.2358,1)" style="font-family:'Liberation Serif',serif;font-size:17.802px" fill="#000">|</text>
<text transform="translate(171.56,273.60) scale(1.5246,1)" style="font-family:'Liberation Serif',serif;font-size:13.830px;font-style:italic" fill="#000" stroke="#fff" stroke-width="0.15">m</text>
<text transform="translate(195.54,275.35) scale(1.6129,1)" style="font-family:'Liberation Serif',serif;font-size:14.400px" fill="#000">=</text>
<text transform="translate(212.37,273.40) scale(1.1971,1)" style="font-family:'Liberation Serif',serif;font-size:15.455px" fill="#000">2</text>
<line x1="116.8" y1="293.50" x2="154.8" y2="293.50" stroke="#808080" stroke-width="3"/>
<text transform="translate(168.33,298.80) scale(1.0823,1)" style="font-family:'Liberation Serif',serif;font-size:15.800px" fill="#000">V-SARP</text>
<text transform="translate(305.00,25.50) scale(1.1361,1)" style="font-family:'Liberation Serif',serif;font-size:22.446px;font-style:italic" fill="#000" stroke="#fff" stroke-width="0.3">l</text>
<text transform="translate(318.65,27.66) scale(1.4888,1)" style="font-family:'Liberation Serif',serif;font-size:20.800px" fill="#000">=</text>
<text transform="translate(342.87,25.50) scale(0.8560,1)" style="font-family:'Liberation Serif',serif;font-size:21.061px" fill="#000">1</text>
<path d="M323.90,31.40 L329.70,31.40 L329.70,43.90 L334.20,43.90 L326.80,54.40 L319.40,43.90 L323.90,43.90 Z" fill="#7b7b7b"/>
<text transform="translate(412.60,187.20) scale(1.1815,1)" style="font-family:'Liberation Serif',serif;font-size:21.583px;font-style:italic" fill="#000" stroke="#fff" stroke-width="0.3">l</text>
<text transform="translate(425.65,188.27) scale(1.6830,1)" style="font-family:'Liberation Serif',serif;font-size:18.400px" fill="#000">=</text>
<text transform="translate(449.33,187.20) scale(1.0750,1)" style="font-family:'Liberation Serif',serif;font-size:20.000px" fill="#000">2</text>
<path d="M431.10,192.10 L436.90,192.10 L436.90,208.00 L441.40,208.00 L434.00,218.30 L426.60,208.00 L431.10,208.00 Z" fill="#7b7b7b"/>
<text transform="translate(445.71,58.31) scale(0.8438,1)" style="font-family:'Liberation Serif',serif;font-size:44.615px" fill="#000" stroke="#fff" stroke-width="0.45">(</text>
<text transform="translate(457.99,57.01) scale(1.1047,1)" style="font-family:'Liberation Serif',serif;font-size:38.958px" fill="#000" stroke="#fff" stroke-width="0.45">a</text>
<text transform="translate(477.37,58.31) scale(0.7672,1)" style="font-family:'Liberation Serif',serif;font-size:44.615px" fill="#000" stroke="#fff" stroke-width="0.45">)</text>
<g clip-path="url(#cb)" fill="none" stroke-width="3" stroke-linejoin="round" stroke-linecap="butt">
<path d="M80.20,471.70 L189.50,533.20 L219.67,543.71 L238.55,545.94 L251.94,544.79 L262.33,541.81 L270.82,537.77 L277.99,533.21 L284.21,528.41 L289.69,523.50 L294.60,518.54 L299.04,513.65 L303.09,509.27 L306.81,505.63 L310.26,502.73 L313.48,500.45 L316.48,498.71 L319.30,497.49 L321.97,496.80 L324.48,496.69 L326.87,497.22 L329.14,498.30 L331.31,499.85 L333.38,501.75 L335.36,503.90 L337.26,506.17 L339.09,508.50 L340.84,510.88 L342.54,513.33 L344.17,515.84 L345.75,518.40 L347.27,521.03 L348.75,523.71 L350.18,526.44 L351.57,529.22 L352.92,532.04 L354.24,534.88 L355.51,537.75 L356.75,540.63 L357.96,543.49 L359.14,546.35 L360.29,549.16 L361.41,551.93 L362.51,554.65 L363.58,557.29 L364.62,559.86 L365.65,562.34 L366.65,564.75 L367.63,567.07 L368.59,569.33 L369.53,571.51 L370.45,573.61 L371.36,575.65 L372.24,577.63 L373.11,579.54 L373.97,581.38 L374.81,583.17 L375.63,584.91 L376.44,586.59 L377.24,588.21 L378.02,589.79 L378.79,591.32 L379.54,592.80 L380.29,594.24 L381.02,595.63 L381.74,596.99 L382.46,598.31 L383.16,599.58 L383.84,600.83 L384.52,602.03 L385.19,603.21 L385.85,604.35 L386.51,605.46 L387.15,606.54 L387.78,607.60 L388.41,608.62 L389.02,609.62 L389.63,610.60 L390.23,611.55 L391.41,613.38 L392.56,615.12 L393.68,616.78 L394.78,618.37 L395.85,619.88 L396.89,621.32 L397.92,622.68 L398.92,623.97 L399.90,625.19 L400.86,626.35 L401.80,627.43 L402.72,628.46 L403.63,629.42 L404.51,630.33 L405.38,631.18 L406.24,631.99 L407.08,632.75 L407.90,633.46 L408.71,634.13 L409.51,634.76 L410.29,635.36 L411.06,635.92 L411.81,636.44 L412.56,636.94 L413.29,637.41 L414.01,637.85 L414.73,638.28 L415.43,638.68 L416.12,639.07 L416.80,639.45 L417.46,639.81 L418.13,640.16 L418.78,640.50 L419.42,640.83 L420.05,641.16 L420.68,641.47 L421.29,641.79 L421.90,642.09 L422.50,642.40 L423.39,642.84 L424.26,643.29 L425.11,643.73 L425.95,644.16 L426.78,644.60 L427.59,645.04 L428.38,645.48 L429.17,645.93 L429.93,646.38 L430.69,646.84 L431.44,647.31 L432.17,647.78 L432.89,648.26 L433.60,648.75 L434.30,649.24 L434.99,649.74 L435.67,650.25 L436.34,650.76 L437.00,651.27 L437.65,651.79 L438.30,652.32 L438.93,652.85 L439.55,653.38 L440.17,653.91 L440.78,654.45 L441.38,654.99 L442.17,655.71 L442.95,656.43 L443.71,657.16 L444.46,657.89 L445.20,658.62 L445.93,659.35 L446.64,660.07 L447.35,660.80 L448.04,661.53 L448.73,662.25 L449.40,662.97 L450.07,663.68 L450.72,664.40 L451.37,665.10 L452.01,665.80 L452.64,666.50 L453.26,667.19 L453.87,667.87 L454.47,668.55 L455.22,669.38 L455.95,670.20 L456.67,671.01 L457.38,671.81 L458.08,672.59 L458.77,673.36 L459.45,674.12 L460.12,674.86 L460.78,675.59 L461.44,676.30 L462.08,677.00 L462.71,677.68 L463.34,678.35 L463.95,679.00 L464.56,679.64 L465.16,680.26 L465.87,680.99 L466.57,681.70 L467.26,682.39 L467.94,683.06 L468.61,683.71 L469.27,684.34 L469.92,684.96 L470.57,685.55 L471.20,686.12 L471.82,686.68 L472.44,687.22 L473.05,687.75 L473.65,688.26 L474.34,688.83 L475.02,689.39 L475.69,689.92 L476.36,690.44 L477.01,690.94 L477.65,691.43 L478.29,691.90 L478.91,692.36 L479.53,692.80 L480.14,693.24 L480.74,693.66 L481.42,694.13 L482.09,694.59 L482.75,695.04 L483.40,695.48 L484.04,695.90 L484.67,696.32 L485.30,696.73 L485.91,697.12 L486.52,697.51 L487.19,697.94 L487.86,698.36 L488.51,698.78 L489.16,699.18 L489.80,699.58 L490.42,699.96 L491.04,700.35 L491.66,700.72 L492.26,701.09 L492.92,701.50 L493.58,701.90 L494.22,702.29 L494.86,702.67 L495.48,703.06 L496.10,703.43 L496.71,703.81 L497.31,704.17 L497.97,704.57 L498.61,704.97 L499.25,705.36 L499.87,705.75 L500.49,706.13 L501.10,706.51 L501.71,706.89 L502.36,707.30 L503.00,707.71 L503.63,708.12 L504.25,708.52 L504.86,708.92 L505.47,709.32 L506.12,709.75 L506.76,710.18 L507.39,710.61 L508.01,711.03 L508.63,711.46 L509.00,711.63" stroke="#ff0000"/>
<path d="M80.20,471.80 L189.50,536.10 L219.67,547.59 L238.55,550.98 L251.94,550.86 L262.33,548.82 L270.82,545.61 L277.99,541.73 L284.21,537.44 L289.69,532.90 L294.60,528.18 L299.04,523.46 L303.09,519.17 L306.81,515.58 L310.26,512.79 L313.48,510.77 L316.48,509.43 L319.30,508.63 L321.97,508.26 L324.48,508.25 L326.87,508.58 L329.14,509.24 L331.31,510.25 L333.38,511.66 L335.36,513.48 L337.26,515.69 L339.09,518.24 L340.84,521.04 L342.54,524.00 L344.17,526.98 L345.75,529.95 L347.27,532.91 L348.75,535.85 L350.18,538.76 L351.57,541.66 L352.92,544.53 L354.24,547.38 L355.51,550.19 L356.75,552.96 L357.96,555.69 L359.14,558.38 L360.29,561.02 L361.41,563.60 L362.51,566.13 L363.58,568.60 L364.62,571.01 L365.65,573.36 L366.65,575.65 L367.63,577.87 L368.59,580.03 L369.53,582.13 L370.45,584.16 L371.36,586.13 L372.24,588.04 L373.11,589.90 L373.97,591.70 L374.81,593.46 L375.63,595.17 L376.44,596.84 L377.24,598.47 L378.02,600.07 L378.79,601.62 L379.54,603.14 L380.29,604.63 L381.02,606.09 L381.74,607.52 L382.46,608.92 L383.16,610.30 L383.84,611.65 L384.52,612.97 L385.19,614.28 L385.85,615.56 L386.51,616.82 L387.15,618.05 L387.78,619.27 L388.41,620.47 L389.02,621.65 L389.63,622.82 L390.23,623.96 L391.41,626.21 L392.56,628.39 L393.68,630.52 L394.78,632.59 L395.85,634.62 L396.89,636.59 L397.92,638.51 L398.92,640.37 L399.90,642.16 L400.86,643.89 L401.80,645.56 L402.72,647.16 L403.63,648.69 L404.51,650.16 L405.38,651.57 L406.24,652.92 L407.08,654.21 L407.90,655.45 L408.71,656.63 L409.51,657.76 L410.29,658.85 L411.06,659.88 L411.81,660.87 L412.56,661.82 L413.29,662.73 L414.01,663.61 L414.73,664.44 L415.43,665.25 L416.12,666.03 L416.80,666.78 L417.46,667.51 L418.13,668.22 L418.78,668.91 L419.42,669.58 L420.05,670.24 L420.68,670.88 L421.29,671.51 L421.90,672.12 L422.50,672.73 L423.39,673.62 L424.26,674.48 L425.11,675.33 L425.95,676.17 L426.78,676.99 L427.59,677.79 L428.38,678.59 L429.17,679.38 L429.93,680.16 L430.69,680.93 L431.44,681.70 L432.17,682.45 L432.89,683.20 L433.60,683.93 L434.30,684.66 L434.99,685.38 L435.67,686.09 L436.34,686.79 L437.00,687.48 L437.65,688.17 L438.30,688.85 L438.93,689.51 L439.55,690.18 L440.17,690.83 L440.78,691.47 L441.38,692.11 L442.17,692.95 L442.95,693.77 L443.71,694.59 L444.46,695.39 L445.20,696.17 L445.93,696.95 L446.64,697.71 L447.35,698.46 L448.04,699.19 L448.73,699.92 L449.40,700.63 L450.07,701.34 L450.72,702.03 L451.37,702.71 L452.01,703.38 L452.64,704.04 L453.26,704.69 L453.87,705.33 L454.47,705.96 L455.22,706.73 L455.95,707.49 L456.67,708.23 L457.38,708.96 L458.08,709.67 L458.77,710.38 L459.45,711.06 L460.12,711.74 L460.78,712.40 L461.44,713.05 L462.08,713.69 L462.71,714.32 L463.34,714.93 L463.95,715.53 L464.56,716.13 L465.16,716.71 L465.87,717.39 L466.57,718.06 L467.26,718.72 L467.94,719.36 L468.61,719.99 L469.27,720.60 L469.92,721.20 L470.57,721.79 L471.20,722.37 L471.82,722.93 L472.44,723.49 L473.05,724.03 L473.65,724.56 L474.34,725.17 L475.02,725.76 L475.69,726.34 L476.36,726.91 L477.01,727.46 L477.65,728.01 L478.29,728.53 L478.91,729.05 L479.53,729.56 L480.14,730.05 L480.74,730.54 L481.42,731.08 L482.09,731.61 L482.75,732.13 L483.40,732.63 L484.04,733.12 L484.67,733.60 L485.30,734.07 L485.91,734.53 L486.52,734.98 L487.19,735.47 L487.86,735.95 L488.51,736.42 L489.16,736.88 L489.80,737.32 L490.42,737.76 L491.04,738.18 L491.66,738.59 L492.26,739.00 L492.92,739.44 L493.58,739.86 L494.22,740.28 L494.86,740.68 L495.48,741.08 L496.10,741.47 L496.71,741.84 L497.31,742.21 L497.97,742.60 L498.61,742.99 L499.25,743.36 L499.87,743.72 L500.49,744.08 L501.10,744.42 L501.71,744.76 L502.36,745.12 L503.00,745.47 L503.63,745.81 L504.25,746.14 L504.86,746.46 L505.47,746.77 L506.12,747.10 L506.76,747.42 L507.39,747.73 L508.01,748.04 L508.63,748.33 L509.00,748.51" stroke="#008000"/>
<path d="M80.20,473.20 L189.50,543.00 L219.67,561.25 L238.55,570.88 L251.94,576.47 L262.33,579.77 L270.82,581.13 L277.99,580.85 L284.21,579.24 L289.69,576.93 L294.60,574.44 L299.04,572.04 L303.09,569.89 L306.81,568.08 L310.26,566.61 L313.48,565.48 L316.48,564.66 L319.30,564.16 L321.97,563.98 L324.48,564.10 L326.87,564.56 L329.14,565.37 L331.31,566.57 L333.38,568.10 L335.36,569.93 L337.26,572.00 L339.09,574.24 L340.84,576.60 L342.54,579.00 L344.17,581.40 L345.75,583.81 L347.27,586.21 L348.75,588.61 L350.18,591.01 L351.57,593.40 L352.92,595.80 L354.24,598.18 L355.51,600.57 L356.75,602.94 L357.96,605.31 L359.14,607.67 L360.29,610.01 L361.41,612.34 L362.51,614.64 L363.58,616.93 L364.62,619.19 L365.65,621.43 L366.65,623.63 L367.63,625.81 L368.59,627.95 L369.53,630.06 L370.45,632.13 L371.36,634.16 L372.24,636.15 L373.11,638.09 L373.97,639.99 L374.81,641.84 L375.63,643.64 L376.44,645.40 L377.24,647.10 L378.02,648.75 L378.79,650.36 L379.54,651.92 L380.29,653.43 L381.02,654.90 L381.74,656.32 L382.46,657.69 L383.16,659.02 L383.84,660.31 L384.52,661.56 L385.19,662.78 L385.85,663.95 L386.51,665.09 L387.15,666.19 L387.78,667.26 L388.41,668.29 L389.02,669.29 L389.63,670.26 L390.23,671.21 L391.41,673.01 L392.56,674.71 L393.68,676.30 L394.78,677.81 L395.85,679.24 L396.89,680.59 L397.92,681.86 L398.92,683.07 L399.90,684.22 L400.86,685.31 L401.80,686.34 L402.72,687.32 L403.63,688.25 L404.51,689.14 L405.38,689.98 L406.24,690.77 L407.08,691.53 L407.90,692.25 L408.71,692.93 L409.51,693.58 L410.29,694.20 L411.06,694.79 L411.81,695.34 L412.56,695.87 L413.29,696.38 L414.01,696.86 L414.73,697.32 L415.43,697.76 L416.12,698.18 L416.80,698.58 L417.46,698.97 L418.13,699.35 L418.78,699.72 L419.42,700.08 L420.05,700.43 L420.68,700.77 L421.29,701.11 L421.90,701.44 L422.50,701.77 L423.39,702.26 L424.26,702.74 L425.11,703.22 L425.95,703.70 L426.78,704.18 L427.59,704.66 L428.38,705.15 L429.17,705.64 L429.93,706.14 L430.69,706.65 L431.44,707.16 L432.17,707.67 L432.89,708.19 L433.60,708.71 L434.30,709.24 L434.99,709.77 L435.67,710.30 L436.34,710.84 L437.00,711.37 L437.65,711.91 L438.30,712.45 L438.93,712.99 L439.55,713.54 L440.17,714.08 L440.78,714.62 L441.38,715.16 L442.17,715.89 L442.95,716.61 L443.71,717.33 L444.46,718.05 L445.20,718.76 L445.93,719.48 L446.64,720.18 L447.35,720.89 L448.04,721.59 L448.73,722.28 L449.40,722.97 L450.07,723.65 L450.72,724.32 L451.37,724.99 L452.01,725.65 L452.64,726.30 L453.26,726.95 L453.87,727.58 L454.47,728.21 L455.22,728.99 L455.95,729.75 L456.67,730.49 L457.38,731.23 L458.08,731.95 L458.77,732.65 L459.45,733.34 L460.12,734.02 L460.78,734.68 L461.44,735.33 L462.08,735.97 L462.71,736.59 L463.34,737.19 L463.95,737.79 L464.56,738.36 L465.16,738.93 L465.87,739.59 L466.57,740.23 L467.26,740.86 L467.94,741.46 L468.61,742.05 L469.27,742.62 L469.92,743.18 L470.57,743.72 L471.20,744.24 L471.82,744.74 L472.44,745.23 L473.05,745.71 L473.65,746.17 L474.34,746.70 L475.02,747.21 L475.69,747.70 L476.36,748.18 L477.01,748.64 L477.65,749.10 L478.29,749.54 L478.91,749.97 L479.53,750.39 L480.14,750.80 L480.74,751.20 L481.42,751.64 L482.09,752.08 L482.75,752.50 L483.40,752.92 L484.04,753.33 L484.67,753.72 L485.30,754.11 L485.91,754.49 L486.52,754.87 L487.19,755.28 L487.86,755.69 L488.51,756.08 L489.16,756.47 L489.80,756.86 L490.42,757.23 L491.04,757.60 L491.66,757.97 L492.26,758.33 L492.92,758.72 L493.58,759.11 L494.22,759.49 L494.86,759.86 L495.48,760.23 L496.10,760.60 L496.71,760.96 L497.31,761.32 L497.97,761.71 L498.61,762.09 L499.25,762.47 L499.87,762.85 L500.49,763.22 L501.10,763.59 L501.71,763.96 L502.36,764.35 L503.00,764.75 L503.63,765.14 L504.25,765.52 L504.86,765.91 L505.47,766.29 L506.12,766.70 L506.76,767.11 L507.39,767.52 L508.01,767.93 L508.63,768.33 L509.00,768.58" stroke="#0000ff"/>
</g>
<rect x="79" y="435" width="431" height="2" fill="#727272"/>
<rect x="79" y="783" width="431" height="2" fill="#727272"/>
<rect x="79" y="435" width="2" height="350" fill="#7a7a7a"/>
<rect x="508" y="435" width="2" height="350" fill="#7a7a7a"/>
<line x1="112.47" y1="785.00" x2="112.47" y2="780.20" stroke="#000" stroke-width="1.6"/>
<line x1="131.35" y1="785.00" x2="131.35" y2="780.20" stroke="#000" stroke-width="1.6"/>
<line x1="144.74" y1="785.00" x2="144.74" y2="780.20" stroke="#000" stroke-width="1.6"/>
<line x1="155.13" y1="785.00" x2="155.13" y2="780.20" stroke="#000" stroke-width="1.6"/>
<line x1="163.62" y1="785.00" x2="163.62" y2="780.20" stroke="#000" stroke-width="1.6"/>
<line x1="170.79" y1="785.00" x2="170.79" y2="780.20" stroke="#000" stroke-width="1.6"/>
<line x1="177.01" y1="785.00" x2="177.01" y2="780.20" stroke="#000" stroke-width="1.6"/>
<line x1="182.49" y1="785.00" x2="182.49" y2="780.20" stroke="#000" stroke-width="1.6"/>
<line x1="187.40" y1="785.00" x2="187.40" y2="776.40" stroke="#000" stroke-width="2.0"/>
<line x1="219.67" y1="785.00" x2="219.67" y2="780.20" stroke="#000" stroke-width="1.6"/>
<line x1="238.55" y1="785.00" x2="238.55" y2="780.20" stroke="#000" stroke-width="1.6"/>
<line x1="251.94" y1="785.00" x2="251.94" y2="780.20" stroke="#000" stroke-width="1.6"/>
<line x1="262.33" y1="785.00" x2="262.33" y2="780.20" stroke="#000" stroke-width="1.6"/>
<line x1="270.82" y1="785.00" x2="270.82" y2="780.20" stroke="#000" stroke-width="1.6"/>
<line x1="277.99" y1="785.00" x2="277.99" y2="780.20" stroke="#000" stroke-width="1.6"/>
<line x1="284.21" y1="785.00" x2="284.21" y2="780.20" stroke="#000" stroke-width="1.6"/>
<line x1="289.69" y1="785.00" x2="289.69" y2="780.20" stroke="#000" stroke-width="1.6"/>
<line x1="294.60" y1="785.00" x2="294.60" y2="776.40" stroke="#000" stroke-width="2.0"/>
<line x1="326.87" y1="785.00" x2="326.87" y2="780.20" stroke="#000" stroke-width="1.6"/>
<line x1="345.75" y1="785.00" x2="345.75" y2="780.20" stroke="#000" stroke-width="1.6"/>
<line x1="359.14" y1="785.00" x2="359.14" y2="780.20" stroke="#000" stroke-width="1.6"/>
<line x1="369.53" y1="785.00" x2="369.53" y2="780.20" stroke="#000" stroke-width="1.6"/>
<line x1="378.02" y1="785.00" x2="378.02" y2="780.20" stroke="#000" stroke-width="1.6"/>
<line x1="385.19" y1="785.00" x2="385.19" y2="780.20" stroke="#000" stroke-width="1.6"/>
<line x1="391.41" y1="785.00" x2="391.41" y2="780.20" stroke="#000" stroke-width="1.6"/>
<line x1="396.89" y1="785.00" x2="396.89" y2="780.20" stroke="#000" stroke-width="1.6"/>
<line x1="401.80" y1="785.00" x2="401.80" y2="776.40" stroke="#000" stroke-width="2.0"/>
<line x1="434.07" y1="785.00" x2="434.07" y2="780.20" stroke="#000" stroke-width="1.6"/>
<line x1="452.95" y1="785.00" x2="452.95" y2="780.20" stroke="#000" stroke-width="1.6"/>
<line x1="466.34" y1="785.00" x2="466.34" y2="780.20" stroke="#000" stroke-width="1.6"/>
<line x1="476.73" y1="785.00" x2="476.73" y2="780.20" stroke="#000" stroke-width="1.6"/>
<line x1="485.22" y1="785.00" x2="485.22" y2="780.20" stroke="#000" stroke-width="1.6"/>
<line x1="492.39" y1="785.00" x2="492.39" y2="780.20" stroke="#000" stroke-width="1.6"/>
<line x1="498.61" y1="785.00" x2="498.61" y2="780.20" stroke="#000" stroke-width="1.6"/>
<line x1="504.09" y1="785.00" x2="504.09" y2="780.20" stroke="#000" stroke-width="1.6"/>
<line x1="79" y1="783.80" x2="87.80" y2="783.80" stroke="#000" stroke-width="2.0"/>
<line x1="79" y1="741.51" x2="84.10" y2="741.51" stroke="#000" stroke-width="1.6"/>
<line x1="79" y1="716.77" x2="84.10" y2="716.77" stroke="#000" stroke-width="1.6"/>
<line x1="79" y1="699.22" x2="84.10" y2="699.22" stroke="#000" stroke-width="1.6"/>
<line x1="79" y1="685.60" x2="84.10" y2="685.60" stroke="#000" stroke-width="1.6"/>
<line x1="79" y1="674.48" x2="84.10" y2="674.48" stroke="#000" stroke-width="1.6"/>
<line x1="79" y1="665.08" x2="84.10" y2="665.08" stroke="#000" stroke-width="1.6"/>
<line x1="79" y1="656.93" x2="84.10" y2="656.93" stroke="#000" stroke-width="1.6"/>
<line x1="79" y1="649.74" x2="84.10" y2="649.74" stroke="#000" stroke-width="1.6"/>
<line x1="79" y1="643.31" x2="87.80" y2="643.31" stroke="#000" stroke-width="2.0"/>
<line x1="79" y1="601.02" x2="84.10" y2="601.02" stroke="#000" stroke-width="1.6"/>
<line x1="79" y1="576.29" x2="84.10" y2="576.29" stroke="#000" stroke-width="1.6"/>
<line x1="79" y1="558.73" x2="84.10" y2="558.73" stroke="#000" stroke-width="1.6"/>
<line x1="79" y1="545.12" x2="84.10" y2="545.12" stroke="#000" stroke-width="1.6"/>
<line x1="79" y1="534.00" x2="84.10" y2="534.00" stroke="#000" stroke-width="1.6"/>
<line x1="79" y1="524.59" x2="84.10" y2="524.59" stroke="#000" stroke-width="1.6"/>
<line x1="79" y1="516.44" x2="84.10" y2="516.44" stroke="#000" stroke-width="1.6"/>
<line x1="79" y1="509.26" x2="84.10" y2="509.26" stroke="#000" stroke-width="1.6"/>
<line x1="79" y1="502.83" x2="87.80" y2="502.83" stroke="#000" stroke-width="2.0"/>
<line x1="79" y1="460.54" x2="84.10" y2="460.54" stroke="#000" stroke-width="1.6"/>
<line x1="79" y1="435.80" x2="84.10" y2="435.80" stroke="#000" stroke-width="1.6"/>
<line x1="80" y1="785.00" x2="80" y2="776.40" stroke="#000" stroke-width="2"/>
<text transform="translate(50.03,510.05) scale(0.9627,1)" style="font-family:'Liberation Serif',serif;font-size:17.926px" fill="#000">10</text>
<text transform="translate(69.03,503.03) scale(0.6761,1)" style="font-family:'Liberation Serif',serif;font-size:11.667px" fill="#000" stroke="#000" stroke-width="0.3">1</text>
<text transform="translate(50.03,650.54) scale(0.9627,1)" style="font-family:'Liberation Serif',serif;font-size:17.926px" fill="#000">10</text>
<text transform="translate(68.92,643.70) scale(0.8036,1)" style="font-family:'Liberation Serif',serif;font-size:11.852px" fill="#000" stroke="#000" stroke-width="0.3">0</text>
<text transform="translate(39.94,791.02) scale(0.9563,1)" style="font-family:'Liberation Serif',serif;font-size:17.926px" fill="#000">10</text>
<rect x="58.60" y="779.80" width="8.50" height="1.00" fill="#000"/>
<text transform="translate(68.63,784.00) scale(0.6761,1)" style="font-family:'Liberation Serif',serif;font-size:11.667px" fill="#000" stroke="#000" stroke-width="0.3">1</text>
<text transform="translate(63.01,807.52) scale(0.9754,1)" style="font-family:'Liberation Serif',serif;font-size:17.926px" fill="#000">10</text>
<rect x="81.80" y="796.90" width="8.20" height="1.00" fill="#000"/>
<text transform="translate(90.63,801.18) scale(1.0435,1)" style="font-family:'Liberation Serif',serif;font-size:12.239px" fill="#000" stroke="#000" stroke-width="0.3">3</text>
<text transform="translate(170.21,807.52) scale(0.9754,1)" style="font-family:'Liberation Serif',serif;font-size:17.926px" fill="#000">10</text>
<rect x="189.00" y="796.90" width="8.20" height="1.00" fill="#000"/>
<text transform="translate(197.80,801.30) scale(1.0665,1)" style="font-family:'Liberation Serif',serif;font-size:12.424px" fill="#000" stroke="#000" stroke-width="0.3">2</text>
<text transform="translate(277.41,807.52) scale(0.9754,1)" style="font-family:'Liberation Serif',serif;font-size:17.926px" fill="#000">10</text>
<rect x="296.20" y="796.90" width="8.20" height="1.00" fill="#000"/>
<text transform="translate(306.23,801.30) scale(0.6348,1)" style="font-family:'Liberation Serif',serif;font-size:12.424px" fill="#000" stroke="#000" stroke-width="0.3">1</text>
<text transform="translate(389.61,807.52) scale(0.9754,1)" style="font-family:'Liberation Serif',serif;font-size:17.926px" fill="#000">10</text>
<text transform="translate(408.12,801.38) scale(0.7653,1)" style="font-family:'Liberation Serif',serif;font-size:12.444px" fill="#000" stroke="#000" stroke-width="0.3">0</text>
<text transform="translate(497.41,807.52) scale(0.9754,1)" style="font-family:'Liberation Serif',serif;font-size:17.926px" fill="#000">10</text>
<text transform="translate(515.63,801.30) scale(0.6348,1)" style="font-family:'Liberation Serif',serif;font-size:12.424px" fill="#000" stroke="#000" stroke-width="0.3">1</text>
<text transform="translate(185.85,832.80) scale(0.9565,1)" style="font-family:'Liberation Serif',serif;font-size:22.300px" fill="#000">Collision</text>
<text transform="translate(271.22,832.80) scale(0.9913,1)" style="font-family:'Liberation Serif',serif;font-size:22.300px" fill="#000">energy</text>
<text transform="translate(339.64,833.08) scale(0.7347,1)" style="font-family:'Liberation Serif',serif;font-size:26.154px" fill="#000" stroke="#fff" stroke-width="0.5">(</text>
<text transform="translate(346.83,832.80) scale(0.9735,1)" style="font-family:'Liberation Serif',serif;font-size:22.300px" fill="#000">cm</text>
<rect x="374.80" y="820.45" width="10.40" height="1.10" fill="#000"/>
<text transform="translate(388.54,825.50) scale(0.9296,1)" style="font-family:'Liberation Serif',serif;font-size:12.121px" fill="#000" stroke="#000" stroke-width="0.35">1</text>
<text transform="translate(395.59,833.08) scale(0.7794,1)" style="font-family:'Liberation Serif',serif;font-size:26.154px" fill="#000" stroke="#fff" stroke-width="0.5">)</text>
<text transform="translate(24.07,699.97) rotate(-90) scale(0.9232,1)" style="font-family:'Liberation Serif',serif;font-size:23.433px">Cross</text>
<text transform="translate(24.07,642.79) rotate(-90) scale(0.9535,1)" style="font-family:'Liberation Serif',serif;font-size:23.433px">section</text>
<text transform="translate(25.40,571.29) rotate(-90) scale(0.9336,1)" style="font-family:'Liberation Serif',serif;font-size:26.044px" stroke="#fff" stroke-width="0.6">(</text>
<text transform="translate(24.30,562.69) rotate(-90) scale(0.7526,1)" style="font-family:'Liberation Serif',serif;font-size:24.878px">Å</text>
<text transform="translate(10.60,547.78) rotate(-90) scale(0.9612,1)" style="font-family:'Liberation Serif',serif;font-size:15.606px" stroke="#000" stroke-width="0.35">2</text>
<text transform="translate(25.40,539.72) rotate(-90) scale(0.9156,1)" style="font-family:'Liberation Serif',serif;font-size:26.044px" stroke="#fff" stroke-width="0.6">)</text>
<rect x="113.10" y="639.50" width="195.40" height="83.00" rx="3" fill="#555"/>
<rect x="111.80" y="638.20" width="195.40" height="83.00" rx="3" fill="#fff" stroke="#1a1a1a" stroke-width="1.5"/>
<line x1="116.8" y1="651.90" x2="154.8" y2="651.90" stroke="#ff0000" stroke-width="3"/>
<text transform="translate(171.56,657.90) scale(1.5246,1)" style="font-family:'Liberation Serif',serif;font-size:13.830px;font-style:italic" fill="#000" stroke="#fff" stroke-width="0.15">m</text>
<text transform="translate(195.54,659.65) scale(1.6129,1)" style="font-family:'Liberation Serif',serif;font-size:14.400px" fill="#000">=</text>
<text transform="translate(211.97,657.84) scale(1.0102,1)" style="font-family:'Liberation Serif',serif;font-size:15.556px" fill="#000">0</text>
<text transform="translate(225.03,658.00) scale(1.0821,1)" style="font-family:'Liberation Serif',serif;font-size:15.800px" fill="#000">(H-SARP)</text>
<line x1="116.8" y1="677.50" x2="154.8" y2="677.50" stroke="#008000" stroke-width="3"/>
<text transform="translate(167.15,683.67) scale(1.2358,1)" style="font-family:'Liberation Serif',serif;font-size:17.802px" fill="#000">|</text>
<text transform="translate(186.15,683.67) scale(1.2358,1)" style="font-family:'Liberation Serif',serif;font-size:17.802px" fill="#000">|</text>
<text transform="translate(171.56,683.40) scale(1.5246,1)" style="font-family:'Liberation Serif',serif;font-size:13.830px;font-style:italic" fill="#000" stroke="#fff" stroke-width="0.15">m</text>
<text transform="translate(195.54,685.15) scale(1.6129,1)" style="font-family:'Liberation Serif',serif;font-size:14.400px" fill="#000">=</text>
<text transform="translate(211.56,683.20) scale(1.0207,1)" style="font-family:'Liberation Serif',serif;font-size:15.455px" fill="#000">1</text>
<text transform="translate(226.23,683.50) scale(1.0760,1)" style="font-family:'Liberation Serif',serif;font-size:15.800px" fill="#000">(X-SARP)</text>
<line x1="116.8" y1="703.20" x2="154.8" y2="703.20" stroke="#0000ff" stroke-width="3"/>
<text transform="translate(167.15,708.87) scale(1.2358,1)" style="font-family:'Liberation Serif',serif;font-size:17.802px" fill="#000">|</text>
<text transform="translate(186.15,708.87) scale(1.2358,1)" style="font-family:'Liberation Serif',serif;font-size:17.802px" fill="#000">|</text>
<text transform="translate(171.56,708.60) scale(1.5246,1)" style="font-family:'Liberation Serif',serif;font-size:13.830px;font-style:italic" fill="#000" stroke="#fff" stroke-width="0.15">m</text>
<text transform="translate(195.54,710.35) scale(1.6129,1)" style="font-family:'Liberation Serif',serif;font-size:14.400px" fill="#000">=</text>
<text transform="translate(212.37,708.40) scale(1.1971,1)" style="font-family:'Liberation Serif',serif;font-size:15.455px" fill="#000">2</text>
<text transform="translate(443.71,493.17) scale(0.8586,1)" style="font-family:'Liberation Serif',serif;font-size:43.846px" fill="#000" stroke="#fff" stroke-width="0.45">(</text>
<text transform="translate(457.50,492.99) scale(0.9452,1)" style="font-family:'Liberation Serif',serif;font-size:40.709px" fill="#000" stroke="#fff" stroke-width="0.45">b</text>
<text transform="translate(477.37,493.17) scale(0.7807,1)" style="font-family:'Liberation Serif',serif;font-size:43.846px" fill="#000" stroke="#fff" stroke-width="0.45">)</text>
</svg>
</body></html>
